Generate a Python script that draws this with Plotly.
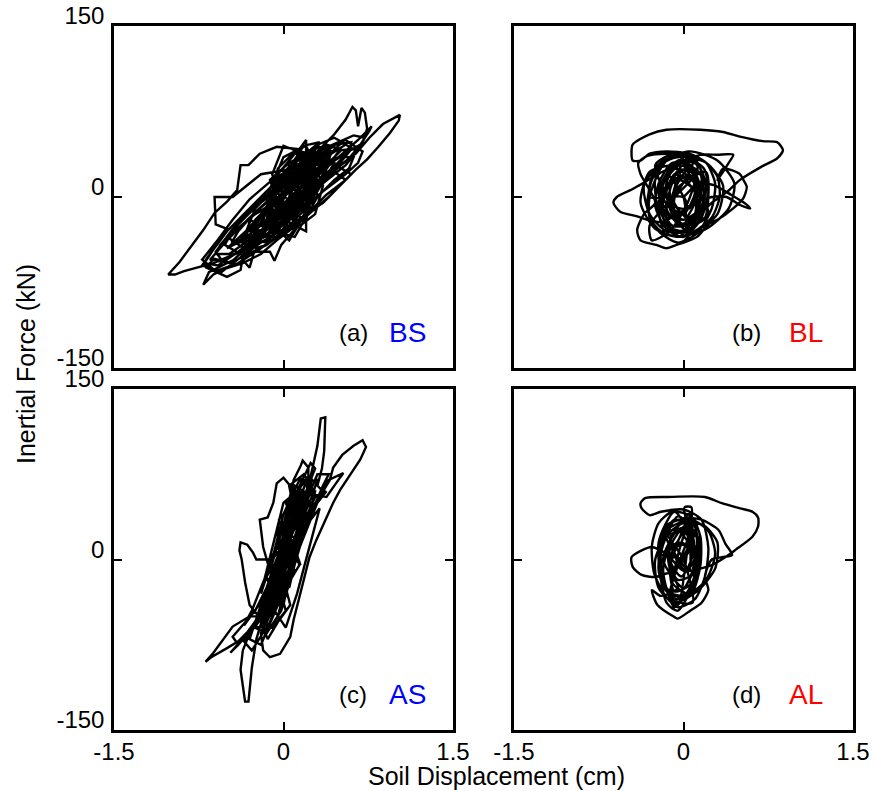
import plotly.graph_objects as go

# Soil displacement (cm) vs. inertial force (kN) traces for the four cases.
# Each list is one continuous time history, stored as (displacement, force) pairs.

bs_loop = [
    (0.00, 0), (0.10, 12), (0.22, 25), (0.30, 33), (0.18, 24), (0.02, 6), (-0.12, -8),
    (-0.25, -20), (-0.32, -30), (-0.20, -24), (-0.02, -8), (0.14, 8), (0.28, 22), (0.40, 34),
    (0.35, 38), (0.20, 28), (0.04, 14), (-0.10, 0), (-0.26, -14), (-0.40, -30), (-0.46, -40),
    (-0.34, -36), (-0.16, -22), (0.04, -4), (0.22, 14), (0.38, 28), (0.50, 40), (0.44, 44),
    (0.28, 34), (0.10, 20), (-0.08, 4), (-0.24, -8), (-0.42, -26), (-0.56, -42), (-0.60, -50),
    (-0.48, -50), (-0.28, -36), (-0.06, -18), (0.14, 0), (0.30, 14), (0.46, 28), (0.58, 40),
    (0.60, 48), (0.46, 46), (0.26, 34), (0.06, 18), (-0.14, 2), (-0.32, -12), (-0.50, -30),
    (-0.62, -46), (-0.70, -58), (-0.58, -60), (-0.40, -48), (-0.20, -32), (0.00, -14),
    (0.20, 4), (0.38, 18), (0.56, 32), (0.68, 44), (0.72, 52), (0.62, 54), (0.44, 46),
    (0.30, 40), (0.45, 55), (0.55, 68), (0.61, 79), (0.64, 76), (0.66, 62), (0.69, 78),
    (0.72, 74), (0.74, 60), (0.70, 48), (0.58, 34), (0.42, 20), (0.22, 2), (0.05, -14),
    (-0.12, -30), (-0.28, -44), (-0.38, -53), (-0.30, -62), (-0.26, -48), (-0.12, -48),
    (-0.08, -56), (-0.02, -42), (0.12, -26), (0.20, -30), (0.20, 50), (0.14, 42),
    (0.03, 43), (-0.06, 44), (-0.21, 38), (-0.31, 28), (-0.38, 28), (-0.41, 6), (-0.50, -4),
    (-0.61, -14), (-0.71, -29), (-0.82, -44), (-0.92, -57), (-1.02, -68), (-0.96, -68),
    (-0.88, -65), (-0.76, -62), (-0.62, -58), (-0.48, -52), (-0.32, -44), (-0.16, -30),
    (0.00, -16), (0.16, -2), (0.34, 14), (0.50, 28), (0.64, 38),
    (0.76, 52), (0.88, 64), (0.96, 68), (1.03, 72), (1.02, 67), (0.94, 56), (0.84, 44),
    (0.74, 33), (0.64, 24), (0.52, 12), (0.40, 0), (0.26, -12), (0.10, -26), (-0.06, -38),
    (-0.20, -50), (-0.36, -58), (-0.52, -63), (-0.62, -68), (-0.71, -77), (-0.66, -66),
    (-0.56, -61), (-0.44, -55), (-0.30, -42), (-0.14, -26), (0.02, -10), (0.18, 6),
    (0.34, 22), (0.50, 36), (0.66, 50), (0.78, 62), (0.76, 58), (0.68, 46),
    (0.40, 30), (-0.20, 20), (-0.45, 0), (-0.61, 0), (-0.60, -24), (-0.50, -28),
    (-0.72, -60), (-0.55, -66), (-0.45, -58), (-0.62, -54), (-0.68, -62), (-0.50, -70),
    (-0.38, -64), (-0.30, -20), (-0.10, -30), (0.10, 10), (0.30, 30), (0.15, 35),
    (-0.05, 10), (-0.25, -10), (-0.35, -35), (-0.15, -40), (0.05, -15), (0.25, 15),
    (0.40, 40), (0.30, 45), (0.10, 25), (-0.10, 0), (-0.20, -25), (0.00, -25), (0.20, -5),
    (0.35, 20), (0.50, 42), (0.38, 46), (0.18, 30), (0.00, 10), (-0.18, -12), (-0.30, -30),
    (-0.10, -35), (0.10, -12), (0.25, 8), (0.30, 38), (0.10, 38), (-0.05, 20), (-0.12, -5),
    (0.08, -20), (0.20, 0), (0.25, 25), (0.05, 28), (0.00, 0),
    (-0.50, -45), (-0.20, -30), (0.20, 5), (0.50, 30), (0.60, 42), (0.40, 40), (0.10, 22),
    (-0.20, -2), (-0.45, -28), (-0.60, -48), (-0.55, -55), (-0.30, -45), (0.00, -20),
    (0.30, 8), (0.55, 28), (0.65, 40), (0.55, 46), (0.30, 30), (0.00, 8), (-0.30, -18),
    (-0.50, -38), (-0.65, -55), (-0.45, -58), (-0.20, -40), (0.05, -25), (0.25, -5),
    (0.45, 15), (0.58, 25), (0.62, 35), (0.50, 35), (0.25, 20), (0.00, 0), (-0.25, -15),
    (-0.50, -35), (-0.35, -45), (-0.10, -30), (0.15, -12), (0.35, 5), (0.55, 20), (0.66, 30),
    (0.70, 40), (0.55, 50), (0.35, 42), (0.15, 30), (-0.10, 15), (-0.30, -2), (-0.45, -20),
    (-0.60, -40), (-0.72, -55), (-0.60, -65), (-0.40, -58), (-0.20, -45), (0.00, -30),
    (0.20, -15), (0.35, -5), (0.50, 10), (0.60, 20), (0.25, 40), (0.05, 30), (-0.12, 15),
    (-0.05, -5), (0.15, -25), (0.28, -15), (0.35, 10), (0.20, 45), (0.00, 35), (-0.15, 0),
    (-0.10, -30), (0.10, -35), (0.30, 0), (0.25, 35), (0.00, 45), (-0.10, 20), (0.00, -10),
    (0.20, -20), (0.30, 20), (0.10, 40), (-0.05, 25), (-0.15, -20), (0.05, -38), (0.22, -10),
    (0.30, 15), (0.15, 30), (0.05, 0), (0.18, 5), (0.08, -25), (-0.08, -8), (0.10, 20),
    (0.25, 25), (0.20, -5), (0.00, -18), (-0.10, 5), (0.12, 35), (0.32, 40), (0.45, 30),
    (0.30, 5), (0.12, -15), (-0.05, -28), (-0.22, -38), (-0.40, -40), (-0.25, -20),
    (-0.05, 0), (0.15, 18), (0.38, 35), (0.52, 48), (0.45, 52), (0.28, 45), (0.08, 28),
    (-0.12, 8), (-0.28, -8), (-0.38, -18), (-0.52, -42), (-0.35, -52), (-0.15, -42),
    (0.02, -30), (0.18, -18), (0.38, 2), (0.55, 15), (0.45, 22), (0.22, 10), (0.05, -5),
    (-0.15, -22), (0.00, 0),
    (-0.20, -30), (0.05, -5), (-0.05, 10), (0.15, 5), (0.05, 25), (0.25, 20), (0.15, 40),
    (0.35, 35), (0.28, 20), (0.38, 22), (0.30, 45), (0.20, 30), (0.10, 15), (0.18, -10),
    (0.00, -20), (-0.10, -10), (-0.18, -35), (-0.05, -35), (0.08, -15), (0.22, 5), (0.35, 28),
    (0.25, 42), (0.12, 22), (0.02, 2), (-0.12, -18), (-0.22, -25), (-0.08, -2), (0.12, 12),
    (0.30, 25), (0.40, 32), (0.22, 38), (0.05, 18), (-0.02, -10), (0.10, -30), (0.20, -12),
    (0.32, 10), (0.42, 38), (0.28, 30), (0.15, 0), (0.00, -30), (-0.15, -42), (-0.25, -45),
    (-0.10, -20), (0.05, 8), (0.20, 28), (0.32, 48), (0.18, 45), (0.08, 30), (-0.08, 12),
    (-0.15, -10), (-0.28, -30), (-0.12, -28), (0.02, -12), (0.18, 12), (0.28, 32), (0.12, 32),
    (0.00, 15), (-0.05, -18), (0.12, -8), (0.24, 2), (0.16, 20), (0.08, 8), (0.00, 0),
]

bl_loop = [
    (0.00, 0), (0.10, 12), (0.05, 25), (-0.08, 20), (-0.15, 5), (-0.10, -15), (0.02, -25),
    (0.12, -12), (0.15, 8), (0.06, 28), (-0.10, 30), (-0.22, 12), (-0.25, -8), (-0.15, -28),
    (0.00, -35), (0.15, -20), (0.22, 5), (0.18, 25), (0.02, 35), (-0.16, 32), (-0.28, 15),
    (-0.32, -10), (-0.22, -30), (-0.05, -40), (0.12, -32), (0.25, -10), (0.28, 12),
    (0.20, 30), (0.05, 38), (-0.15, 40), (-0.30, 38), (-0.38, 32), (-0.45, 32), (-0.46, 39),
    (-0.45, 46), (-0.30, 55), (-0.15, 59), (0.15, 59), (0.35, 57), (0.50, 53), (0.70, 49),
    (0.83, 48), (0.88, 41), (0.83, 34), (0.68, 26), (0.50, 15), (0.38, 4), (0.25, -5),
    (0.10, -18), (-0.10, -10), (-0.24, 18), (-0.36, 12), (-0.47, 6), (-0.59, 0), (-0.62, -5),
    (-0.56, -13), (-0.41, -17), (-0.32, -20), (-0.20, -22), (-0.05, -15), (0.10, -5),
    (0.25, 0), (0.38, 0), (0.50, -7), (0.59, -10), (0.55, -6), (0.42, 2), (0.28, 10),
    (0.10, 15), (0.00, 30), (0.15, 37), (0.30, 37), (0.44, 37), (0.40, 30), (0.30, 15),
    (0.35, 25), (0.50, 20), (0.53, 15), (0.56, 9), (0.53, -1), (0.44, -10), (0.30, -20),
    (0.23, -23), (0.12, -35), (0.03, -39), (-0.06, -42), (-0.15, -45), (-0.24, -42),
    (-0.38, -38), (-0.41, -29), (-0.35, -15), (-0.25, -5), (-0.38, 20), (-0.40, 30),
    (-0.32, 36), (-0.15, 38), (0.05, 36), (0.20, 30), (0.30, 18), (0.32, 0), (0.25, -18),
    (0.10, -30), (-0.05, -35), (-0.20, -30), (-0.30, -18), (-0.30, 0), (-0.22, 20),
    (-0.10, 25), (0.10, 20), (-0.15, -10), (0.05, -30), (0.12, 0), (-0.05, 20), (-0.18, 0),
    (0.00, -20), (0.15, 10), (0.00, 28), (-0.12, 10), (-0.05, -25), (0.10, -15), (0.08, 15),
    (-0.08, 15), (-0.15, -18), (0.03, -12), (0.00, 0),
    (-0.30, 0), (-0.25, 25), (-0.05, 35), (0.20, 30), (0.35, 10), (0.30, -15), (0.10, -30),
    (-0.15, -30), (-0.30, -15), (-0.35, 10), (-0.20, 30), (0.05, 40), (0.30, 32), (0.45, 12),
    (0.40, -10), (0.20, -28), (-0.05, -35), (-0.25, -28), (-0.38, -5), (-0.30, 22),
    (-0.10, 28), (0.10, 25), (0.20, 10), (0.15, -10), (0.00, -20), (-0.15, -15), (-0.20, 0),
    (-0.10, 15), (0.05, 18), (0.12, 5), (0.05, -10), (-0.08, -8), (-0.05, 8), (0.20, 22),
    (0.18, -20), (-0.10, -25), (-0.22, 5), (-0.05, 32), (0.12, 28), (0.05, -2), (-0.12, -30),
    (-0.28, -38), (-0.30, -25), (-0.05, 5), (0.08, 30), (-0.08, 38), (-0.25, 28), (-0.12, -2),
    (0.08, -22), (0.22, -15), (0.10, 12), (-0.02, 22), (-0.10, -5), (0.02, -30), (0.00, 0),
    (-0.15, 25), (0.12, 30), (0.18, 0), (0.05, -30), (-0.15, -25), (-0.20, 5), (-0.05, 30),
    (0.15, 20), (0.12, -15), (-0.05, -35), (-0.18, -10), (-0.12, 20), (0.08, 35), (0.20, 10),
    (0.10, -25), (-0.10, -30), (-0.22, -5), (-0.05, 15), (0.10, 5), (0.00, -15), (-0.10, 0),
    (0.05, 25), (0.18, -10), (-0.02, -40), (-0.15, -35), (-0.25, 15), (-0.08, 38), (0.12, 15),
    (0.00, 0),
]

as_loop = [
    (0.00, 0), (0.05, 15), (0.10, 30), (0.05, 25), (-0.02, 5), (-0.08, -15), (-0.12, -30),
    (-0.05, -22), (0.03, -2), (0.10, 20), (0.16, 40), (0.12, 45), (0.04, 25), (-0.04, 2),
    (-0.12, -20), (-0.18, -42), (-0.12, -45), (-0.04, -25), (0.05, 0), (0.14, 25), (0.22, 50),
    (0.18, 55), (0.08, 35), (-0.02, 10), (-0.10, -15), (-0.20, -45), (-0.25, -60),
    (-0.16, -58), (-0.06, -35), (0.04, -10), (0.14, 15), (0.24, 42), (0.28, 60), (0.22, 62),
    (0.10, 40), (0.20, 55), (0.30, 100), (0.33, 124), (0.37, 125), (0.36, 95), (0.34, 80),
    (0.30, 65), (0.35, 60), (0.41, 70), (0.44, 81), (0.52, 92), (0.62, 100), (0.70, 105),
    (0.73, 99), (0.68, 88), (0.62, 79), (0.56, 70), (0.50, 61), (0.44, 50), (0.38, 37),
    (0.29, 17), (0.23, 2), (0.15, -30), (0.09, -53), (0.06, -68), (-0.03, -83), (-0.12, -86),
    (-0.18, -80), (-0.20, -65), (0.05, 10), (0.40, 70), (0.53, 76), (0.50, 72), (0.38, 55),
    (0.10, 60), (0.00, 72), (-0.06, 67), (-0.09, 50), (-0.14, 37), (-0.21, 35), (-0.18, 11),
    (-0.12, -10), (0.00, 30), (0.09, 70), (0.15, 82), (0.17, 87), (0.22, 81), (0.22, 60),
    (0.12, 30), (-0.10, 0), (-0.24, 0), (-0.27, 6), (-0.32, 13), (-0.38, 15), (-0.39, 8),
    (-0.37, 0), (-0.34, -20), (-0.30, -40), (-0.22, -50), (-0.30, -50), (-0.45, -59),
    (-0.55, -72), (-0.62, -82), (-0.69, -90), (-0.64, -86), (-0.50, -78), (-0.40, -72),
    (-0.30, -62), (-0.20, -50), (-0.15, -40), (-0.24, -70), (-0.28, -95), (-0.31, -125),
    (-0.34, -125), (-0.38, -97), (-0.36, -80), (-0.30, -65), (-0.22, -55), (-0.10, -40),
    (-0.47, -82), (-0.40, -75), (0.00, -20), (0.10, 40), (0.05, 50), (-0.08, -20),
    (-0.10, -45), (0.05, 10), (0.15, 55), (0.20, 40), (0.02, -25), (-0.05, -50), (0.08, 0),
    (0.18, 60), (0.10, 65), (-0.02, 10), (-0.12, -40), (0.00, -40), (0.12, 20), (0.25, 70),
    (0.16, 70), (0.05, 20), (-0.06, -30), (0.00, 0),
    (-0.20, -60), (-0.05, -20), (0.10, 20), (0.25, 55), (0.30, 70), (0.20, 68), (0.05, 30),
    (-0.10, -10), (-0.22, -45), (-0.30, -70), (-0.20, -75), (-0.05, -40), (0.10, 0),
    (0.22, 35), (0.35, 65), (0.40, 75), (0.30, 75), (0.15, 40), (0.00, 5), (-0.15, -30),
    (-0.25, -55), (-0.35, -72), (-0.28, -80), (-0.12, -55), (0.02, -20), (0.18, 20),
    (0.30, 50), (0.38, 60), (0.28, 55), (0.12, 20), (-0.02, -15), (-0.18, -50), (-0.40, -75),
    (-0.45, -68), (-0.25, -45), (-0.05, -5), (0.12, 35), (0.26, 62), (0.15, 72), (0.00, 40),
    (-0.10, 0), (-0.20, -30), (0.00, 50), (0.12, 60), (-0.05, -30), (-0.12, -50),
    (0.05, -10), (0.20, 45), (0.08, 55), (-0.08, -10), (-0.15, -40), (0.00, -35), (0.15, 20),
    (0.22, 55), (0.10, 45), (-0.05, 0), (0.05, -25), (0.18, 30), (0.05, 35), (-0.10, -25),
    (0.10, 10), (0.15, -5), (0.00, 15), (-0.08, -45), (0.02, -60), (0.12, -30), (0.25, 20),
    (0.32, 45), (0.20, 30), (0.08, -10), (-0.02, -45), (-0.15, -65), (-0.25, -60),
    (-0.12, -30), (0.02, 5), (0.14, 45), (0.28, 80), (0.24, 85), (0.12, 60), (-0.02, 25),
    (-0.12, -5), (-0.28, -45), (-0.35, -58), (-0.18, -35), (0.00, 0),
    (-0.15, -55), (-0.02, -20), (-0.10, -20), (0.02, 0), (-0.05, 10), (0.08, 20), (0.02, 30),
    (0.15, 45), (0.08, 55), (0.20, 70), (0.22, 55), (0.12, 30), (0.18, 25), (0.06, 0),
    (0.10, -10), (-0.02, -30), (0.02, -45), (-0.10, -60), (-0.18, -62), (-0.12, -35),
    (-0.20, -40), (-0.08, -10), (-0.12, 0), (0.00, 20), (-0.04, 35), (0.08, 50), (0.05, 65),
    (0.18, 75), (0.25, 65), (0.15, 40), (0.22, 35), (0.10, 10), (0.14, -5), (0.02, -25),
    (0.06, -40), (-0.05, -55), (-0.14, -70), (-0.20, -55), (-0.10, -30), (-0.15, -15),
    (-0.02, 5), (-0.06, 25), (0.06, 40), (0.02, 50), (0.12, 60), (0.16, 50), (0.05, 20),
    (0.10, 5), (-0.02, -15), (0.00, -35), (-0.12, -45), (-0.05, -5), (0.10, 35), (0.25, 50),
    (0.10, 60), (0.00, 0),
]

al_loop = [
    (0.00, 0), (0.05, 15), (0.00, 28), (-0.10, 22), (-0.14, 5), (-0.10, -15), (0.00, -25),
    (0.08, -10), (0.10, 10), (0.05, 30), (-0.08, 35), (-0.18, 20), (-0.22, 0), (-0.18, -22),
    (-0.06, -35), (0.08, -28), (0.15, -5), (0.15, 20), (0.07, 38), (-0.10, 42), (-0.22, 32),
    (-0.28, 12), (-0.26, -12), (-0.16, -32), (-0.05, -42), (0.10, -35), (0.19, -15),
    (0.22, 10), (0.16, 35), (0.00, 44), (-0.20, 42), (-0.30, 39), (-0.37, 45), (-0.38, 49.5),
    (-0.34, 54), (-0.14, 55), (0.19, 55), (0.34, 49.5), (0.50, 45), (0.61, 42), (0.66, 37),
    (0.66, 29), (0.61, 20), (0.46, 8.5), (0.37, 2), (0.25, -5), (0.00, -10), (-0.15, 5),
    (-0.28, 11), (-0.37, 8), (-0.46, 2), (-0.45, -6.5), (-0.37, -13.6), (-0.25, -15.4),
    (-0.12, -12), (-0.05, -25), (-0.20, -32), (-0.28, -27), (-0.23, -40), (-0.08, -50.6),
    (-0.05, -52), (0.06, -45), (0.16, -38), (0.22, -27), (0.19, -15), (0.25, 0), (0.34, 2),
    (0.43, 4), (0.37, 14), (0.31, 26), (0.16, 35), (0.02, 38), (0.01, 46), (0.07, 46),
    (0.06, 20), (0.05, -10), (-0.15, 20), (0.10, 25), (-0.10, -20), (0.05, -30), (0.12, 0),
    (-0.05, 25), (-0.18, 0), (0.00, -25), (0.15, 15), (0.02, 30), (-0.12, 10), (-0.08, -28),
    (0.08, -20), (0.10, 12), (-0.05, 12), (-0.12, -10), (0.00, 0),
    (-0.20, 5), (-0.15, 30), (0.05, 36), (0.22, 25), (0.28, 5), (0.20, -18), (0.02, -32),
    (-0.15, -28), (-0.22, -10), (-0.18, 18), (0.00, 32), (0.18, 30), (0.30, 15), (0.28, -8),
    (0.12, -28), (-0.08, -38), (-0.22, -25), (-0.25, 0), (-0.12, 25), (0.08, 25), (0.15, 8),
    (0.10, -12), (-0.05, -18), (-0.12, -2), (-0.02, 15), (0.10, 2), (0.02, -10), (-0.08, 5),
    (0.05, 35), (-0.05, -40), (-0.12, -30), (0.10, 35), (0.00, 20), (-0.10, -35), (0.08, -38),
    (0.00, 0),
    (-0.15, 25), (0.08, 35), (0.12, 0), (0.02, -35), (-0.15, -25), (-0.20, 5), (-0.05, 38),
    (0.12, 20), (0.08, -20), (-0.08, -42), (-0.18, -10), (-0.10, 20), (0.05, 40), (0.14, 10),
    (0.05, -28), (-0.12, -32), (-0.20, -5), (-0.05, 15), (0.08, 5), (-0.02, -15), (-0.12, 0),
    (0.02, 25), (0.12, -10), (-0.05, -45), (-0.15, -38), (-0.22, 15), (-0.08, 42), (0.08, 15),
    (0.00, 0),
]

panels = [
    ("(a)", "BS", "#0000FF", bs_loop),
    ("(b)", "BL", "#FF0000", bl_loop),
    ("(c)", "AS", "#0000FF", as_loop),
    ("(d)", "AL", "#FF0000", al_loop),
]

disp_ticks = [-1.5, 0, 1.5]
disp_labels = ["-1.5", "0", "1.5"]
force_ticks = [-150, 0, 150]
force_labels = ["-150", "0", "150"]

W, H = 876, 791
col_dom = [[114 / W, 453 / W], [514 / W, 853 / W]]
row_dom = [[1 - 368 / H, 1 - 26 / H], [1 - 730 / H, 1 - 389 / H]]

FONT = "Liberation Sans, Arial, sans-serif"

fig = go.Figure()
layout = dict(
    width=W, height=H,
    margin=dict(l=0, r=0, t=0, b=0, autoexpand=False),
    paper_bgcolor="white", plot_bgcolor="white",
    showlegend=False,
    font=dict(family=FONT, size=24, color="black"),
)

annotations = []
for i, (tag, name, color, pts) in enumerate(panels):
    row, col = divmod(i, 2)
    sfx = "" if i == 0 else str(i + 1)
    xs = [p[0] for p in pts]
    ys = [p[1] for p in pts]
    fig.add_trace(go.Scatter(
        x=xs, y=ys, mode="lines", xaxis="x" + sfx, yaxis="y" + sfx,
        line=dict(color="black", width=2.4,
                  shape="spline" if name.endswith("L") else "linear",
                  smoothing=0.7),
        hoverinfo="skip",
    ))
    common = dict(showline=True, linecolor="black", linewidth=2.5, mirror="ticks",
                  ticks="inside", ticklen=8, tickwidth=2, tickcolor="black",
                  showgrid=False, zeroline=False, fixedrange=True, automargin=False,
                  tickfont=dict(family=FONT, size=24, color="black"))
    layout["xaxis" + sfx] = dict(
        common, domain=col_dom[col], range=[-1.5, 1.5], anchor="y" + sfx,
        tickvals=disp_ticks, ticktext=disp_labels,
        showticklabels=(row == 1), ticklabelstandoff=-2,
    )
    layout["yaxis" + sfx] = dict(
        common, domain=row_dom[row], range=[-150, 150], anchor="x" + sfx,
        tickvals=force_ticks, ticktext=force_labels,
        showticklabels=(col == 0), ticklabelstandoff=2, ticklabelshift=-10,
    )
    annotations.append(dict(
        text=tag, xref="x" + sfx + " domain", yref="y" + sfx + " domain",
        x=0.706 if col == 0 else 0.687, y=0.105, showarrow=False,
        font=dict(family=FONT, size=24, color="black"),
        xanchor="center", yanchor="middle",
    ))
    annotations.append(dict(
        text=name, xref="x" + sfx + " domain", yref="y" + sfx + " domain",
        x=0.866 if col == 0 else 0.861, y=0.105, showarrow=False,
        font=dict(family=FONT, size=28, color=color),
        xanchor="center", yanchor="middle",
    ))

annotations.append(dict(
    text="Soil Displacement (cm)", xref="paper", yref="paper",
    x=496 / W, y=1 - 776 / H, showarrow=False,
    font=dict(family=FONT, size=25, color="black"),
    xanchor="center", yanchor="middle",
))
annotations.append(dict(
    text="Inertial Force (kN)", xref="paper", yref="paper",
    x=26 / W, y=1 - 364 / H, showarrow=False, textangle=-90,
    font=dict(family=FONT, size=25, color="black"),
    xanchor="center", yanchor="middle",
))
layout["annotations"] = annotations

fig.update_layout(**layout)
fig.write_html("out.html")
